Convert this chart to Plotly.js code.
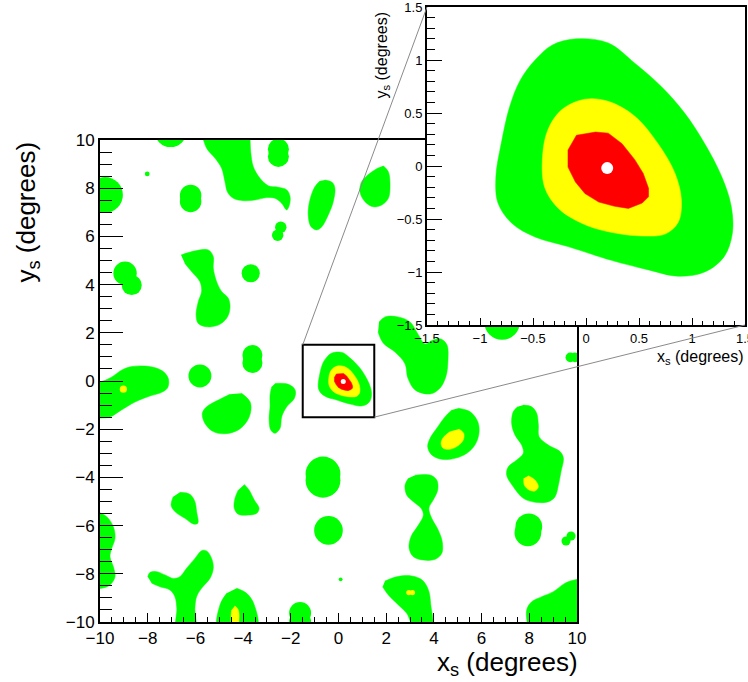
<!DOCTYPE html>
<html><head><meta charset="utf-8">
<script src="https://cdn.plot.ly/plotly-3.0.1.min.js"></script>
<style>html,body{margin:0;padding:0;background:#fff}</style>
</head><body><div id="chart" style="width:748px;height:682px"></div>
<script>
// ---- Sky-map regions (degrees) ----
// Small, round green regions: centre x, centre y, radius
const greenDotX = [-7.04, -2.52,-2.52, -9.79, -8.02, -6.20,-6.20, -2.42,-2.55, -8.95,-8.67, -3.68, -3.61,-3.61, -5.81,
  -0.65,-0.65, -0.42, -1.61,-1.61, 6.86, 9.72,9.92, 7.98,7.94, 9.54,9.75, 0.09];
const greenDotY = [10.37, 9.62,9.32, 7.72, 8.59, 7.70,7.45, 6.38,6.05, 4.47,3.98, 4.47, 1.08,0.75, 0.21,
  -3.86,-4.12, -6.20, -9.63,-10.0, 2.45, 0.98,0.98, -6.05,-6.30, -6.64,-6.43, -8.23];
const greenDotR = [0.67, 0.44,0.44, 0.75, 0.10, 0.45,0.45, 0.24,0.24, 0.49,0.42, 0.38, 0.42,0.42, 0.48,
  0.73,0.73, 0.60, 0.46,0.46, 0.75, 0.20,0.20, 0.56,0.56, 0.19,0.19, 0.08];
// Irregular green regions: outlines (null separates regions)
const greenOutlineX = [
  -5.74,-5.53,-5.18,-4.90,-4.76,-4.65,-4.41,-3.99,-3.50,-3.01,-2.66,-2.38,-2.17,-2.06,-2.03,-2.17,-2.52,-2.94,-3.29,-3.57,-3.68,-3.71, null,
  -0.57,-0.26,-0.15,-0.22,-0.43,-0.70,-0.91,-1.15,-1.27,-1.20,-0.99,-0.78, null,
  -6.60,-6.00,-5.46,-5.25,-5.25,-5.11,-4.90,-4.62,-4.55,-4.69,-5.04,-5.53,-5.88,-5.97,-5.88,-5.74,-5.81,-6.16,-6.44, null,
  -10.3,-9.87,-9.50,-9.08,-8.66,-8.11,-7.65,-7.32,-7.13,-7.17,-7.48,-7.90,-8.53,-9.16,-9.58,-10.0,-10.3, null,
  -4.06,-3.71,-3.68,-3.85,-4.20,-4.76,-5.25,-5.60,-5.71,-5.53,-5.04,-4.55, null,
  -2.66,-2.10,-1.82,-1.85,-2.17,-2.38,-2.45,-2.66,-2.84,-2.91,-2.87,-2.87,-2.80, null,
  -6.65,-6.23,-6.02,-5.95,-5.90,-6.09,-6.44,-6.86,-7.02,-6.93, null,
  -3.95,-3.75,-3.53,-3.33,-3.43,-3.78,-4.20,-4.37,-4.34,-4.20, null,
  -10.3,-9.72,-9.44,-9.37,-9.51,-9.58,-9.44,-9.37,-9.58,-9.93,-10.3, null,
  -8.00,-7.90,-7.62,-7.27,-6.93,-6.65,-6.37,-6.02,-5.74,-5.53,-5.32,-5.25,-5.39,-5.74,-5.95,-6.02,-6.02,-6.78,-6.78,-6.86,-7.07,-7.48,-7.83, null,
  -4.27,-3.85,-3.53,-3.43,-5.04,-4.97,-4.69, null,
  1.66,1.87,2.37,2.79,2.91,3.21,3.84,4.26,4.51,4.59,4.55,4.30,3.96,3.63,3.33,3.00,2.49,1.95,1.70, null,
  1.88,2.09,2.16,2.09,1.81,1.46,1.11,0.90,0.97,1.32,1.67, null,
  5.02,5.51,5.84,5.89,5.72,5.38,4.88,4.33,3.91,3.74,3.84,4.12,4.47,4.75, null,
  7.75,8.10,8.31,8.38,8.41,8.80,9.29,9.43,9.33,9.22,9.08,8.80,8.24,7.75,7.33,7.05,7.12,7.47,7.75,7.68,7.40,7.26,7.33,7.51, null,
  3.21,3.84,4.12,4.16,3.97,3.79,3.91,4.18,4.35,4.33,4.05,3.56,3.14,2.96,3.04,3.35,3.56,3.46,3.14,2.86,2.79,2.93, null,
  1.95,2.44,3.07,3.51,3.77,3.87,3.91,3.21,2.86,2.51,2.09,1.85, null,
  7.96,7.89,8.10,8.52,9.01,9.50,10.06,10.3,10.3];
const greenOutlineY = [
  10.3,9.66,9.25,8.83,8.27,7.83,7.58,7.48,7.51,7.61,7.58,7.37,7.10,7.30,7.65,7.93,8.04,8.10,8.41,8.89,9.51,10.3, null,
  8.34,8.24,8.00,7.44,6.89,6.40,6.27,6.40,6.89,7.51,8.06,8.30, null,
  5.23,5.40,5.44,5.16,4.68,4.12,3.71,3.43,3.02,2.60,2.32,2.25,2.39,2.74,3.29,3.71,4.12,4.54,4.88, null,
  -0.08,0.00,0.17,0.46,0.60,0.62,0.54,0.37,0.08,-0.29,-0.50,-0.62,-0.87,-1.24,-1.49,-1.54,-1.54, null,
  -0.51,-0.86,-1.27,-1.69,-2.03,-2.19,-2.10,-1.76,-1.34,-1.07,-0.79,-0.55, null,
  -0.10,-0.14,-0.37,-0.72,-1.07,-1.48,-1.96,-2.17,-2.03,-1.55,-1.07,-0.58,-0.24, null,
  -4.62,-4.70,-5.01,-5.42,-5.90,-5.93,-5.70,-5.42,-5.15,-4.80, null,
  -4.29,-4.52,-4.94,-5.28,-5.49,-5.56,-5.53,-5.28,-4.87,-4.52, null,
  -5.35,-5.63,-6.05,-6.53,-6.95,-7.29,-7.71,-8.12,-8.46,-8.60,-8.60, null,
  -8.12,-7.94,-7.91,-8.05,-8.19,-8.12,-7.77,-7.36,-7.04,-7.05,-7.36,-7.77,-8.19,-8.60,-8.95,-9.43,-10.33,-10.33,-9.43,-8.95,-8.67,-8.54,-8.39, null,
  -8.60,-8.81,-9.29,-10.3,-10.3,-9.29,-8.81, null,
  2.03,1.58,1.20,0.71,0.12,-0.37,-0.54,-0.29,0.21,0.87,1.49,1.74,1.70,1.54,1.95,2.45,2.66,2.66,2.45, null,
  8.93,8.68,8.13,7.58,7.30,7.23,7.44,7.85,8.27,8.62,8.85, null,
  -1.13,-1.27,-1.69,-2.17,-2.66,-3.00,-3.21,-3.25,-3.07,-2.73,-2.38,-1.96,-1.48,-1.20, null,
  -1.00,-1.07,-1.34,-1.83,-2.31,-2.66,-2.93,-3.21,-3.76,-4.32,-4.80,-5.01,-5.03,-4.87,-4.39,-3.90,-3.56,-3.28,-3.00,-2.66,-2.24,-1.76,-1.27,-1.07, null,
  -3.91,-3.90,-4.11,-4.52,-4.94,-5.28,-5.70,-6.18,-6.67,-7.15,-7.40,-7.43,-7.29,-6.94,-6.46,-5.98,-5.56,-5.28,-5.01,-4.73,-4.32,-4.04, null,
  -8.30,-8.12,-8.09,-8.26,-8.67,-9.29,-10.3,-10.3,-9.64,-9.29,-8.88,-8.54, null,
  -10.3,-9.50,-9.16,-8.95,-8.74,-8.39,-8.22,-8.22,-10.3];
// Yellow cores: small round ones, and outlines
const yellowDotX = [-9.02, 2.95,3.10];
const yellowDotY = [-0.34, -8.78,-8.78];
const yellowDotR = [0.15, 0.11,0.11];
const yellowOutlineX = [5.05,5.25,5.23,5.02,4.68,4.39,4.30,4.39,4.68, null,
  7.96,8.24,8.38,8.24,7.99,7.79,7.77, null,
  -4.34,-4.20,-4.17,-4.25,-4.45,-4.51,-4.48];
const yellowOutlineY = [-1.99,-2.17,-2.45,-2.68,-2.83,-2.79,-2.59,-2.35,-2.10, null,
  -3.93,-4.11,-4.39,-4.56,-4.52,-4.32,-4.04, null,
  -9.33,-9.50,-9.85,-10.3,-10.3,-9.85,-9.50];
// Central source contours (degrees)
const coreGreenX = [-0.09,0.21,0.46,0.71,0.93,1.12,1.28,1.37,1.38,1.30,1.12,0.87,0.59,0.24,-0.17,-0.48,-0.70,-0.83,-0.85,-0.80,-0.72,-0.62,-0.48,-0.32,-0.09];
const coreGreenY = [1.20,1.16,0.97,0.75,0.50,0.21,-0.10,-0.38,-0.64,-0.86,-1.00,-1.04,-0.98,-0.89,-0.76,-0.67,-0.54,-0.35,-0.10,0.21,0.56,0.81,1.00,1.14,1.20];
const coreYellowX = [-0.01,0.21,0.46,0.68,0.84,0.90,0.87,0.75,0.53,0.21,-0.04,-0.26,-0.39,-0.41,-0.36,-0.23,-0.01];
const coreYellowY = [0.63,0.61,0.47,0.21,-0.07,-0.32,-0.53,-0.64,-0.66,-0.62,-0.54,-0.40,-0.20,0.09,0.34,0.53,0.63];
const coreRedX = [-0.09,0.09,0.21,0.34,0.46,0.54,0.59,0.59,0.53,0.40,0.27,0.12,-0.01,-0.10,-0.17,-0.17,-0.09];
const coreRedY = [0.29,0.32,0.31,0.21,0.06,-0.07,-0.21,-0.29,-0.35,-0.40,-0.38,-0.34,-0.26,-0.15,-0.01,0.15,0.29];
const peakX = [0.20];
const peakY = [-0.02];
// Axis ranges
const mainRange = [-10, 10];
const zoomRange = [-1.5, 1.5];

// ---- layout geometry ----
const W = 748, H = 682;
const FONT = "Liberation Sans, Arial, Helvetica, sans-serif";
const xDom = [100 / W, 577 / W], yDom = [(H - 622) / H, (H - 140) / H];
const x2Dom = [427 / W, 745 / W], y2Dom = [(H - 325) / H, (H - 7) / H];
const pxPerUnit = (xDom[1] - xDom[0]) * W / (mainRange[1] - mainRange[0]);

const GREEN = '#00ff00', YELLOW = '#ffff00', RED = '#ff0000';

function dots(x, y, r, color, xa, ya) {
  return {type: 'scatter', mode: 'markers', x: x, y: y, xaxis: xa, yaxis: ya, hoverinfo: 'skip',
    marker: {color: color, size: r.map(v => 2 * v * pxPerUnit), line: {width: 0}, opacity: 1}};
}
function region(x, y, color, xa, ya, shape) {
  return {type: 'scatter', mode: 'lines', x: x, y: y, xaxis: xa, yaxis: ya, fill: 'toself', connectgaps: false,
    fillcolor: color, line: {color: color, width: 0.5, shape: shape, smoothing: 1}, hoverinfo: 'skip'};
}
const traces = [
  dots(greenDotX, greenDotY, greenDotR, GREEN, 'x', 'y'),
  region(greenOutlineX, greenOutlineY, GREEN, 'x', 'y', 'spline'),
  dots(yellowDotX, yellowDotY, yellowDotR, YELLOW, 'x', 'y'),
  region(yellowOutlineX, yellowOutlineY, YELLOW, 'x', 'y', 'spline'),
  region(coreGreenX, coreGreenY, GREEN, 'x', 'y', 'spline'),
  region(coreYellowX, coreYellowY, YELLOW, 'x', 'y', 'spline'),
  region(coreRedX, coreRedY, RED, 'x', 'y', 'linear'),
  {type: 'scatter', mode: 'markers', x: peakX, y: peakY, xaxis: 'x', yaxis: 'y', hoverinfo: 'skip',
    marker: {color: '#fff', size: 5, line: {width: 0}}},
  region(coreGreenX, coreGreenY, GREEN, 'x2', 'y2', 'spline'),
  region(coreYellowX, coreYellowY, YELLOW, 'x2', 'y2', 'spline'),
  region(coreRedX, coreRedY, RED, 'x2', 'y2', 'linear'),
  {type: 'scatter', mode: 'markers', x: peakX, y: peakY, xaxis: 'x2', yaxis: 'y2', hoverinfo: 'skip',
    marker: {color: '#fff', size: 12, line: {width: 0}}}
];

function axis(dom, range, anchor, dtick, mdtick, len, mlen, fs) {
  return {domain: dom, range: range, anchor: anchor, autorange: false, dtick: dtick, tick0: 0,
    ticks: 'inside', ticklen: len, tickwidth: 1, tickcolor: '#000', ticklabeloverflow: 'allow',
    minor: {dtick: mdtick, tick0: 0, ticks: 'inside', ticklen: mlen, tickwidth: 1, tickcolor: '#000', showgrid: false},
    showline: true, linewidth: 2, linecolor: '#000', mirror: true, showgrid: false, zeroline: false,
    tickfont: {family: FONT, size: fs, color: '#000'}, fixedrange: true, automargin: false};
}

// paper coordinates of data points
function px(v, dom, rng) { return dom[0] + (v - rng[0]) / (rng[1] - rng[0]) * (dom[1] - dom[0]); }

const layout = {
  width: W, height: H, margin: {l: 0, r: 0, t: 0, b: 0}, showlegend: false,
  paper_bgcolor: '#fff', plot_bgcolor: '#fff',
  xaxis: axis(xDom, mainRange, 'y', 2, 0.5, 9, 5, 17),
  yaxis: axis(yDom, mainRange, 'x', 2, 0.5, 23, 12, 17),
  xaxis2: axis(x2Dom, zoomRange, 'y2', 0.5, 0.1, 7, 4, 13),
  yaxis2: axis(y2Dom, zoomRange, 'x2', 0.5, 0.1, 15, 8, 13),
  shapes: [
    {type: 'rect', xref: 'x2', yref: 'y2', x0: zoomRange[0], x1: zoomRange[1], y0: zoomRange[0], y1: zoomRange[1],
      fillcolor: '#fff', line: {width: 0}, layer: 'below'},
    {type: 'rect', xref: 'x', yref: 'y', x0: zoomRange[0], x1: zoomRange[1], y0: zoomRange[0], y1: zoomRange[1],
      line: {color: '#000', width: 2}, layer: 'above'},
    {type: 'line', xref: 'paper', yref: 'paper',
      x0: px(zoomRange[0], xDom, mainRange), y0: px(zoomRange[1], yDom, mainRange),
      x1: x2Dom[0], y1: y2Dom[1], line: {color: '#8a8a8a', width: 1}, layer: 'above'},
    {type: 'line', xref: 'paper', yref: 'paper',
      x0: px(zoomRange[1], xDom, mainRange), y0: px(zoomRange[0], yDom, mainRange),
      x1: x2Dom[1], y1: y2Dom[0], line: {color: '#8a8a8a', width: 1}, layer: 'above'}
  ],
  annotations: [
    {text: 'x<sub>s</sub> (degrees)', xref: 'paper', yref: 'paper', x: 580 / W, y: (H - 663) / H,
      xanchor: 'right', yanchor: 'middle', showarrow: false, font: {family: FONT, size: 26, color: '#000'}},
    {text: 'y<sub>s</sub> (degrees)', xref: 'paper', yref: 'paper', x: 27 / W, y: (H - 140) / H,
      xanchor: 'center', yanchor: 'top', textangle: -90, showarrow: false, font: {family: FONT, size: 26, color: '#000'}},
    {text: 'x<sub>s</sub> (degrees)', xref: 'paper', yref: 'paper', x: 746 / W, y: (H - 357) / H,
      xanchor: 'right', yanchor: 'middle', showarrow: false, font: {family: FONT, size: 16, color: '#000'}},
    {text: 'y<sub>s</sub> (degrees)', xref: 'paper', yref: 'paper', x: 382 / W, y: (H - 10) / H,
      xanchor: 'center', yanchor: 'top', textangle: -90, showarrow: false, font: {family: FONT, size: 16, color: '#000'}}
  ]
};
Plotly.newPlot('chart', traces, layout, {staticPlot: true, displayModeBar: false});
</script></body></html>
